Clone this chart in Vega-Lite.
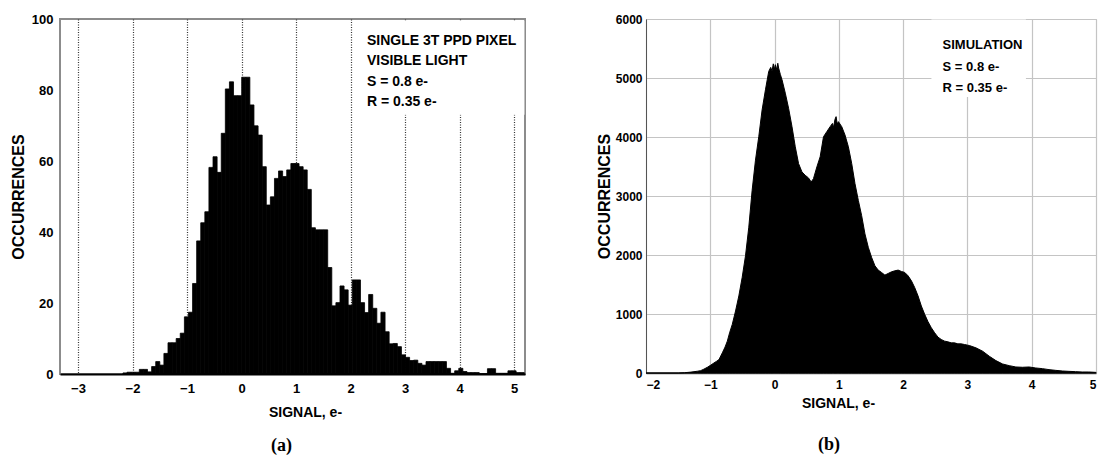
{
  "$schema": "https://vega.github.io/schema/vega-lite/v6.json",
  "background": "white",
  "padding": {"left": 9, "top": 12, "right": 0, "bottom": 0},
  "spacing": 69,
  "config": {
    "font": "Liberation Sans",
    "axis": {"labelColor": "black", "titleColor": "black", "labelFontWeight": "bold", "titleFontWeight": "bold"}
  },
  "hconcat": [
    {
      "width": 465,
      "height": 355,
      "view": {"stroke": "#8c8c8c", "strokeWidth": 2},
      "title": {"text": "(a)", "orient": "bottom", "font": "Liberation Serif", "fontSize": 18, "fontWeight": "bold", "color": "black", "offset": 18, "dx": -11},
      "layer": [
        {
          "data": {"values": [
            {"lo": -2.175, "hi": -2.100, "count": 0.3},
            {"lo": -2.100, "hi": -2.025, "count": 0.5},
            {"lo": -2.025, "hi": -1.950, "count": 0.5},
            {"lo": -1.950, "hi": -1.875, "count": 0.5},
            {"lo": -1.875, "hi": -1.800, "count": 1.3},
            {"lo": -1.800, "hi": -1.725, "count": 1.3},
            {"lo": -1.725, "hi": -1.649, "count": 0.6},
            {"lo": -1.649, "hi": -1.574, "count": 2.1},
            {"lo": -1.574, "hi": -1.499, "count": 3.5},
            {"lo": -1.499, "hi": -1.424, "count": 2.5},
            {"lo": -1.424, "hi": -1.349, "count": 5.8},
            {"lo": -1.349, "hi": -1.274, "count": 8.8},
            {"lo": -1.274, "hi": -1.199, "count": 8.8},
            {"lo": -1.199, "hi": -1.124, "count": 10},
            {"lo": -1.124, "hi": -1.048, "count": 11.5},
            {"lo": -1.048, "hi": -0.973, "count": 16.1},
            {"lo": -0.973, "hi": -0.898, "count": 17.4},
            {"lo": -0.898, "hi": -0.823, "count": 25.5},
            {"lo": -0.823, "hi": -0.748, "count": 37.5},
            {"lo": -0.748, "hi": -0.673, "count": 42.6},
            {"lo": -0.673, "hi": -0.598, "count": 45.7},
            {"lo": -0.598, "hi": -0.523, "count": 58.2},
            {"lo": -0.523, "hi": -0.448, "count": 61.2},
            {"lo": -0.448, "hi": -0.372, "count": 56.8},
            {"lo": -0.372, "hi": -0.297, "count": 67.8},
            {"lo": -0.297, "hi": -0.222, "count": 80.3},
            {"lo": -0.222, "hi": -0.147, "count": 82.3},
            {"lo": -0.147, "hi": -0.072, "count": 78.4},
            {"lo": -0.072, "hi": 0.003, "count": 78.4},
            {"lo": 0.003, "hi": 0.078, "count": 83.6},
            {"lo": 0.078, "hi": 0.153, "count": 83.6},
            {"lo": 0.153, "hi": 0.228, "count": 75.8},
            {"lo": 0.228, "hi": 0.304, "count": 69.9},
            {"lo": 0.304, "hi": 0.379, "count": 67.3},
            {"lo": 0.379, "hi": 0.454, "count": 58.4},
            {"lo": 0.454, "hi": 0.529, "count": 47.6},
            {"lo": 0.529, "hi": 0.604, "count": 49.9},
            {"lo": 0.604, "hi": 0.679, "count": 55.1},
            {"lo": 0.679, "hi": 0.754, "count": 57.2},
            {"lo": 0.754, "hi": 0.829, "count": 55.6},
            {"lo": 0.829, "hi": 0.905, "count": 57.5},
            {"lo": 0.905, "hi": 0.980, "count": 59.3},
            {"lo": 0.980, "hi": 1.055, "count": 59.3},
            {"lo": 1.055, "hi": 1.130, "count": 58.4},
            {"lo": 1.130, "hi": 1.205, "count": 57.5},
            {"lo": 1.205, "hi": 1.280, "count": 52},
            {"lo": 1.280, "hi": 1.355, "count": 41.2},
            {"lo": 1.355, "hi": 1.430, "count": 40.6},
            {"lo": 1.430, "hi": 1.506, "count": 40.6},
            {"lo": 1.506, "hi": 1.581, "count": 40.6},
            {"lo": 1.581, "hi": 1.656, "count": 30},
            {"lo": 1.656, "hi": 1.731, "count": 19.2},
            {"lo": 1.731, "hi": 1.806, "count": 20.1},
            {"lo": 1.806, "hi": 1.881, "count": 24.8},
            {"lo": 1.881, "hi": 1.956, "count": 23.7},
            {"lo": 1.956, "hi": 2.031, "count": 19.4},
            {"lo": 2.031, "hi": 2.107, "count": 26.5},
            {"lo": 2.107, "hi": 2.182, "count": 26.5},
            {"lo": 2.182, "hi": 2.257, "count": 20.1},
            {"lo": 2.257, "hi": 2.332, "count": 17.3},
            {"lo": 2.332, "hi": 2.407, "count": 22.4},
            {"lo": 2.407, "hi": 2.482, "count": 18.5},
            {"lo": 2.482, "hi": 2.557, "count": 14.3},
            {"lo": 2.557, "hi": 2.633, "count": 17.4},
            {"lo": 2.633, "hi": 2.708, "count": 11.9},
            {"lo": 2.708, "hi": 2.783, "count": 8.5},
            {"lo": 2.783, "hi": 2.858, "count": 8.6},
            {"lo": 2.858, "hi": 2.933, "count": 7.7},
            {"lo": 2.933, "hi": 3.008, "count": 5.4},
            {"lo": 3.008, "hi": 3.083, "count": 4.7},
            {"lo": 3.083, "hi": 3.158, "count": 3.8},
            {"lo": 3.158, "hi": 3.234, "count": 3.9},
            {"lo": 3.234, "hi": 3.309, "count": 3.0},
            {"lo": 3.309, "hi": 3.384, "count": 2.5},
            {"lo": 3.384, "hi": 3.459, "count": 3.5},
            {"lo": 3.459, "hi": 3.534, "count": 3.5},
            {"lo": 3.534, "hi": 3.609, "count": 3.5},
            {"lo": 3.609, "hi": 3.684, "count": 3.5},
            {"lo": 3.684, "hi": 3.759, "count": 3.5},
            {"lo": 3.759, "hi": 3.835, "count": 1.6},
            {"lo": 3.835, "hi": 3.910, "count": 0.2},
            {"lo": 3.910, "hi": 3.985, "count": 0.9},
            {"lo": 3.985, "hi": 4.060, "count": 1.6},
            {"lo": 4.060, "hi": 4.135, "count": 0.7},
            {"lo": 4.135, "hi": 4.210, "count": 0.4},
            {"lo": 4.210, "hi": 4.285, "count": 0.4},
            {"lo": 4.285, "hi": 4.361, "count": 0.4},
            {"lo": 4.361, "hi": 4.436, "count": 0.1},
            {"lo": 4.436, "hi": 4.511, "count": 0.1},
            {"lo": 4.511, "hi": 4.586, "count": 1.5},
            {"lo": 4.586, "hi": 4.661, "count": 1.5},
            {"lo": 4.661, "hi": 4.736, "count": 0.2},
            {"lo": 4.736, "hi": 4.811, "count": 0.2},
            {"lo": 4.811, "hi": 4.887, "count": 0.2},
            {"lo": 4.887, "hi": 4.962, "count": 0.9},
            {"lo": 4.962, "hi": 5.037, "count": 0.9},
            {"lo": 5.037, "hi": 5.112, "count": 0.4},
            {"lo": 5.112, "hi": 5.187, "count": 0.4}
          ]},
          "mark": {"type": "rect", "color": "black", "stroke": "black", "strokeWidth": 0.8},
          "encoding": {
            "x": {"field": "lo", "type": "quantitative",
              "scale": {"domain": [-3.33, 5.2], "nice": false, "zero": false},
              "axis": {"values": [-3, -2, -1, 0, 1, 2, 3, 4, 5], "format": "d", "grid": true, "gridDash": [1, 1.5], "gridColor": "#333333", "gridWidth": 1.2,
                "ticks": false, "domainColor": "black", "domainWidth": 2, "labelPadding": 8, "labelFontSize": 13,
                "title": "SIGNAL, e-", "titleFontSize": 14, "titlePadding": 10, "titleX": 245}},
            "x2": {"field": "hi"},
            "y": {"field": "count", "type": "quantitative",
              "scale": {"domain": [0, 100], "nice": false},
              "axis": {"values": [0, 20, 40, 60, 80, 100], "format": "d", "grid": false, "ticks": false, "domain": false, "labelPadding": 7, "labelFontSize": 13,
                "title": "OCCURRENCES", "titleFontSize": 16, "titlePadding": 5}},
            "y2": {"datum": 0}
          }
        },
        {
          "data": {"values": [{}]},
          "mark": {"type": "rect", "color": "white"},
          "encoding": {
            "x": {"datum": 2.17, "type": "quantitative"},
            "x2": {"datum": 5.19},
            "y": {"datum": 73, "type": "quantitative"},
            "y2": {"datum": 99.6}
          }
        },
        {
          "data": {"values": [{}]},
          "mark": {"type": "text", "align": "left", "baseline": "top", "font": "Liberation Sans", "fontWeight": "bold", "fontSize": 14, "lineHeight": 20.5, "color": "black"},
          "encoding": {
            "x": {"datum": 2.3, "type": "quantitative"},
            "y": {"datum": 95.8, "type": "quantitative"},
            "text": {"value": ["SINGLE 3T PPD PIXEL", "VISIBLE LIGHT", "S = 0.8 e-", "R = 0.35 e-"]}
          }
        }
      ]
    },
    {
      "width": 450,
      "height": 354,
      "view": {"stroke": "#bdbdbd", "strokeWidth": 1},
      "title": {"text": "(b)", "orient": "bottom", "font": "Liberation Serif", "fontSize": 18, "fontWeight": "bold", "color": "black", "offset": 26, "dx": -42},
      "layer": [
        {
          "data": {"values": [
            {"s": -2.0, "n": 0}, {"s": -1.5, "n": 0}, {"s": -1.4, "n": 5}, {"s": -1.3, "n": 15},
            {"s": -1.2, "n": 30}, {"s": -1.149, "n": 40}, {"s": -1.1, "n": 65}, {"s": -1.045, "n": 97},
            {"s": -0.99, "n": 135}, {"s": -0.943, "n": 170}, {"s": -0.9, "n": 200}, {"s": -0.865, "n": 227},
            {"s": -0.813, "n": 341}, {"s": -0.77, "n": 440}, {"s": -0.735, "n": 540}, {"s": -0.7, "n": 680},
            {"s": -0.658, "n": 824}, {"s": -0.607, "n": 1051}, {"s": -0.556, "n": 1306}, {"s": -0.504, "n": 1619},
            {"s": -0.452, "n": 1988}, {"s": -0.401, "n": 2471}, {"s": -0.349, "n": 3096}, {"s": -0.297, "n": 3607},
            {"s": -0.246, "n": 4004}, {"s": -0.194, "n": 4459}, {"s": -0.142, "n": 4800}, {"s": -0.091, "n": 5112},
            {"s": -0.06, "n": 5180}, {"s": -0.039, "n": 5120}, {"s": -0.02, "n": 5240}, {"s": 0.0, "n": 5150},
            {"s": 0.012, "n": 5226}, {"s": 0.035, "n": 5140}, {"s": 0.05, "n": 5250}, {"s": 0.063, "n": 5169},
            {"s": 0.09, "n": 5060}, {"s": 0.116, "n": 4970}, {"s": 0.167, "n": 4743}, {"s": 0.218, "n": 4487},
            {"s": 0.271, "n": 4175}, {"s": 0.322, "n": 3834}, {"s": 0.373, "n": 3550}, {"s": 0.426, "n": 3408},
            {"s": 0.477, "n": 3351}, {"s": 0.528, "n": 3306}, {"s": 0.57, "n": 3238}, {"s": 0.605, "n": 3294},
            {"s": 0.658, "n": 3493}, {"s": 0.709, "n": 3664}, {"s": 0.761, "n": 4004}, {"s": 0.812, "n": 4090},
            {"s": 0.864, "n": 4175}, {"s": 0.9, "n": 4230}, {"s": 0.916, "n": 4160}, {"s": 0.94, "n": 4300},
            {"s": 0.957, "n": 4345}, {"s": 0.975, "n": 4220}, {"s": 0.993, "n": 4260}, {"s": 1.045, "n": 4175},
            {"s": 1.096, "n": 4033}, {"s": 1.148, "n": 3834}, {"s": 1.2, "n": 3550}, {"s": 1.251, "n": 3209},
            {"s": 1.303, "n": 2925}, {"s": 1.354, "n": 2670}, {"s": 1.406, "n": 2357}, {"s": 1.458, "n": 2130},
            {"s": 1.509, "n": 1960}, {"s": 1.561, "n": 1818}, {"s": 1.612, "n": 1744}, {"s": 1.664, "n": 1704},
            {"s": 1.716, "n": 1659}, {"s": 1.767, "n": 1687}, {"s": 1.819, "n": 1715}, {"s": 1.871, "n": 1732},
            {"s": 1.922, "n": 1744}, {"s": 1.974, "n": 1721}, {"s": 2.025, "n": 1704}, {"s": 2.077, "n": 1647},
            {"s": 2.129, "n": 1562}, {"s": 2.18, "n": 1448}, {"s": 2.232, "n": 1306}, {"s": 2.283, "n": 1136},
            {"s": 2.335, "n": 994}, {"s": 2.387, "n": 869}, {"s": 2.438, "n": 767}, {"s": 2.49, "n": 682},
            {"s": 2.542, "n": 608}, {"s": 2.593, "n": 568}, {"s": 2.645, "n": 540}, {"s": 2.697, "n": 528},
            {"s": 2.748, "n": 511}, {"s": 2.8, "n": 511}, {"s": 2.851, "n": 494}, {"s": 2.903, "n": 494},
            {"s": 2.955, "n": 483}, {"s": 3.006, "n": 471}, {"s": 3.03, "n": 466}, {"s": 3.133, "n": 426},
            {"s": 3.237, "n": 369}, {"s": 3.34, "n": 284}, {"s": 3.443, "n": 210}, {"s": 3.547, "n": 153},
            {"s": 3.65, "n": 125}, {"s": 3.753, "n": 102}, {"s": 3.856, "n": 97}, {"s": 3.96, "n": 102},
            {"s": 4.063, "n": 85}, {"s": 4.166, "n": 74}, {"s": 4.269, "n": 57}, {"s": 4.373, "n": 45},
            {"s": 4.476, "n": 34}, {"s": 4.579, "n": 28}, {"s": 4.682, "n": 23}, {"s": 4.785, "n": 17},
            {"s": 4.888, "n": 17}, {"s": 4.992, "n": 11}, {"s": 5.0, "n": 10}
          ]},
          "mark": {"type": "area", "color": "black", "interpolate": "linear", "stroke": "black", "strokeWidth": 1},
          "encoding": {
            "x": {"field": "s", "type": "quantitative",
              "scale": {"domain": [-2, 5], "nice": false, "zero": false},
              "axis": {"values": [-2, -1, 0, 1, 2, 3, 4, 5], "format": "d", "grid": true, "gridColor": "#c4c4c4", "gridWidth": 1.2,
                "ticks": false, "domainColor": "#555555", "domainWidth": 1.5, "labelPadding": 6, "labelFontSize": 12,
                "title": "SIGNAL, e-", "titleFontSize": 14, "titlePadding": 6, "titleX": 192}},
            "y": {"field": "n", "type": "quantitative",
              "scale": {"domain": [0, 6000], "nice": false},
              "axis": {"values": [0, 1000, 2000, 3000, 4000, 5000, 6000], "format": "d", "grid": true, "gridColor": "#c4c4c4", "gridWidth": 1.2,
                "ticks": false, "domainColor": "#555555", "labelPadding": 4, "labelFontSize": 12,
                "title": "OCCURRENCES", "titleFontSize": 16, "titlePadding": 3}}
          }
        },
        {
          "data": {"values": [{}]},
          "mark": {"type": "rect", "color": "white"},
          "encoding": {
            "x": {"datum": 2.44, "type": "quantitative"},
            "x2": {"datum": 3.91},
            "y": {"datum": 4680, "type": "quantitative"},
            "y2": {"datum": 5990}
          }
        },
        {
          "data": {"values": [{}]},
          "mark": {"type": "text", "align": "left", "baseline": "top", "font": "Liberation Sans", "fontWeight": "bold", "fontSize": 13, "lineHeight": 21.5, "color": "black"},
          "encoding": {
            "x": {"datum": 2.613, "type": "quantitative"},
            "y": {"datum": 5660, "type": "quantitative"},
            "text": {"value": ["SIMULATION", "S = 0.8 e-", "R = 0.35 e-"]}
          }
        }
      ]
    }
  ]
}
